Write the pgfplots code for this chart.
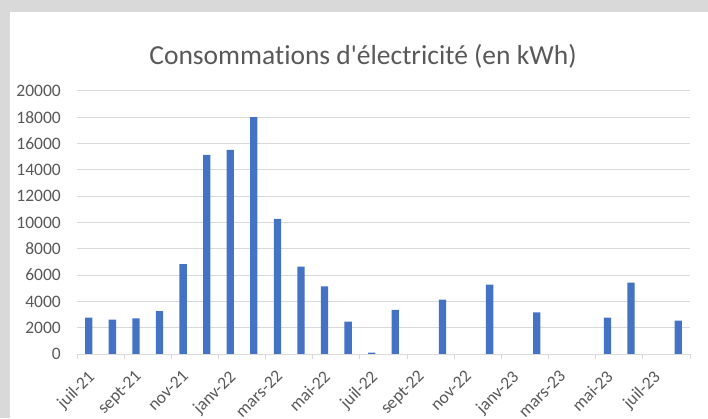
\documentclass[border=0pt]{standalone}
\usepackage{pgfplots}
\pgfplotsset{compat=1.18}
\usepackage{fontspec}
\setmainfont{Carlito}
\newfontfamily\cf{Carlito}[Ligatures=NoCommon]
\definecolor{exblue}{HTML}{4472C4}
\definecolor{txtgray}{HTML}{595959}
\definecolor{gridgray}{HTML}{D9D9D9}
\definecolor{bggray}{HTML}{D9D9D9}
\pgfplotstableread{
x y
0 2760
1 2620
2 2700
3 3270
4 6840
5 15150
6 15520
7 18020
8 10280
9 6640
10 5150
11 2460
12 100
13 3360
15 4130
17 5280
19 3160
22 2770
23 5430
25 2540
}\datatable
\begin{document}
\begin{tikzpicture}[x=1bp,y=1bp]
\useasboundingbox (0,0) rectangle (708,418);
\clip (0,0) rectangle (708,418);
\fill[bggray] (0,0) rectangle (708,418);
\fill[white] (10,0) rectangle (708,406);
\begin{axis}[
  at={(77bp,64bp)}, anchor=south west,
  width=613bp, height=263bp, scale only axis,
  xmin=-0.5, xmax=25.5, ymin=0, ymax=20000,
  ybar, bar width=7.3bp,
  axis line style={draw=none},
  ytick={0,2000,...,20000},
  ymajorgrids, grid style={gridgray, line width=1bp},
  major tick length=0pt,
  yticklabel style={font=\cf\fontsize{17.5bp}{19bp}\selectfont, text=txtgray, anchor=east, inner sep=0pt, xshift=-16bp},
  scaled y ticks=false,
  /pgf/number format/assume math mode=true,
  /pgf/number format/.cd, use comma, 1000 sep={}, /pgfplots/.cd,
  xtick={0,2,...,24},
  xticklabels={juil-21,sept-21,nov-21,janv-22,mars-22,mai-22,juil-22,sept-22,nov-22,janv-23,mars-23,mai-23,juil-23},
  xticklabel style={font=\cf\fontsize{17.5bp}{19bp}\selectfont, text=txtgray, xshift=-2bp, yshift=-15bp, rotate=45, anchor=north east, inner sep=0pt},
  extra x ticks={-0.5,1.5,...,25.5},
  extra x tick labels={},
  extra x tick style={grid=none, major tick length=5bp, tick pos=bottom, tick align=outside, tick style={gridgray, line width=1bp}},
  clip=false,
]
\addplot[fill=exblue, draw=none] table[x=x,y=y] {\datatable};
\draw[gridgray, line width=1bp] (axis cs:-0.5,0) -- (axis cs:25.5,0);
\end{axis}
\node[anchor=base, text=txtgray, font=\cf\fontsize{27.5bp}{30bp}\selectfont] at (363,354) {Consommations d'électricité (en kWh)};
\end{tikzpicture}
\end{document}
